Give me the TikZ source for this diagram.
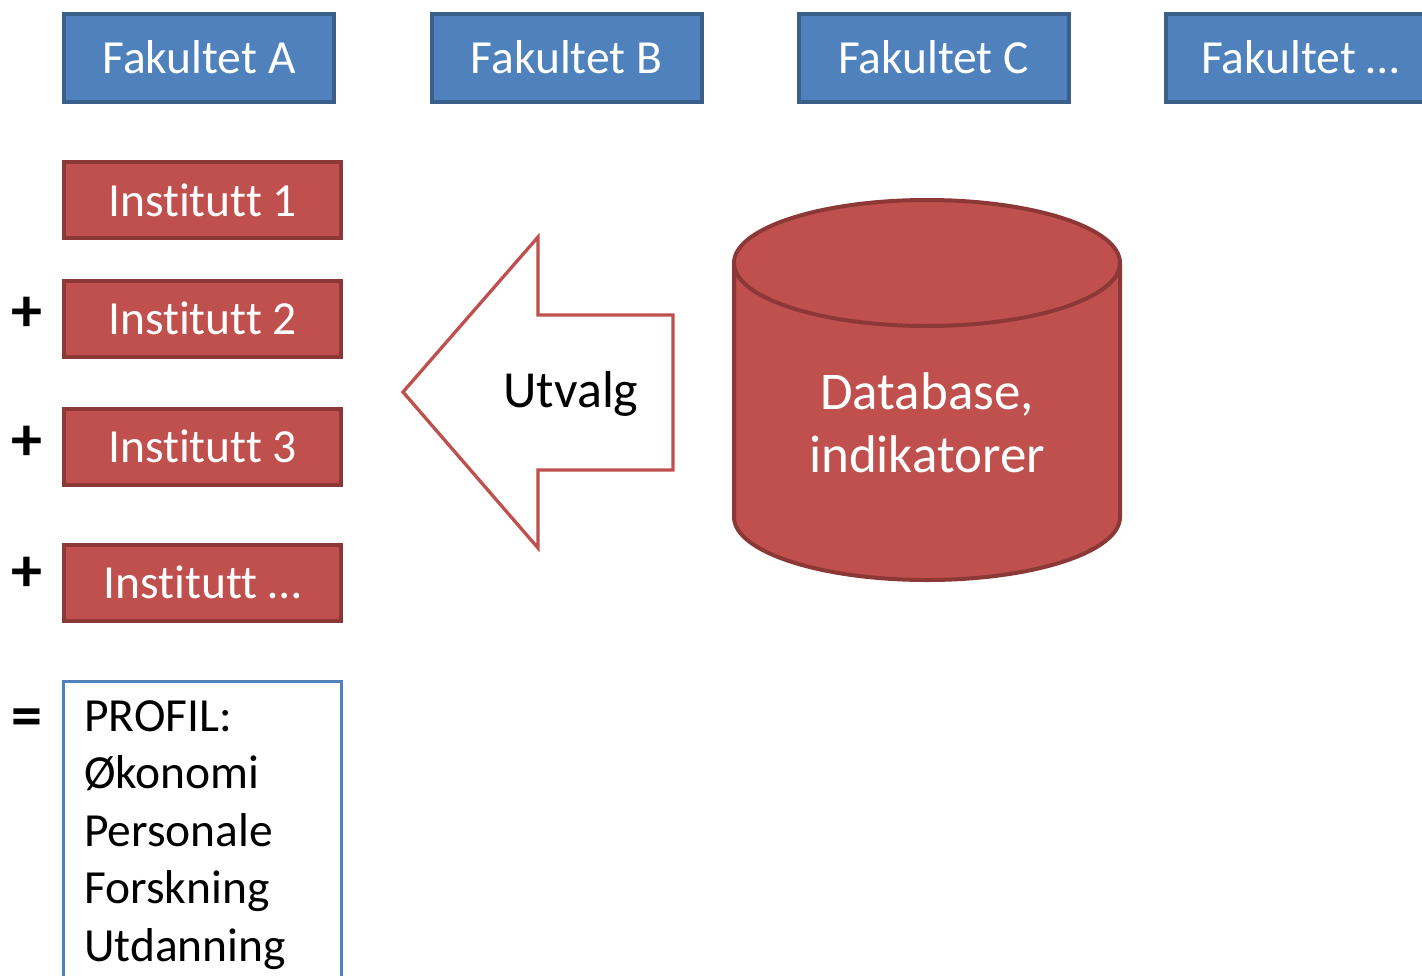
\documentclass[tikz,border=0pt]{standalone}
\usepackage{fontspec}
\setmainfont[Ligatures=NoCommon]{Carlito}
\definecolor{fakfill}{HTML}{4F81BD}
\definecolor{fakline}{HTML}{3A5F8B}
\definecolor{instfill}{HTML}{C0504D}
\definecolor{instline}{HTML}{8C3836}
\begin{document}
\begin{tikzpicture}[x=1pt,y=-1pt,
  fakbox/.style={draw=fakline,fill=fakfill,line width=4pt,minimum width=270pt,minimum height=88pt,inner sep=0pt,text=white,font=\fontsize{47.5}{50}\selectfont},
  instbox/.style={draw=instline,fill=instfill,line width=4pt,minimum width=277pt,minimum height=76pt,inner sep=0pt,text=white,font=\fontsize{47.5}{50}\selectfont},
  opsign/.style={font=\fontsize{62}{62}\selectfont\bfseries,inner sep=0pt}
]
\useasboundingbox (0,0) rectangle (1422,975);
\clip (0,0) rectangle (1422,975);
% Fakultet row
\node[fakbox] (fa) at (199,57.5) {Fakultet A};
\node[fakbox] (fb) at (566.5,57.5) {Fakultet B};
\node[fakbox] (fc) at (933.5,57.5) {Fakultet C};
\node[fakbox] (fd) at (1300.5,57.5) {Fakultet \dots};
% Institutt column
\node[instbox] (i1) at (202.5,200) {Institutt 1};
\node[instbox] (i2) at (202.5,318.5) {Institutt 2};
\node[instbox] (i3) at (202.5,446.5) {Institutt 3};
\node[instbox] (i4) at (202.5,582.5) {Institutt \dots};
% operators
\node[opsign] (p1) at (27,314) {+};
\node[opsign] (p2) at (27,443) {+};
\node[opsign] (p3) at (27,574) {+};
\node[opsign] (eq) at (27,723) {=};
% profile box
\draw[draw=fakfill,line width=3.5pt,fill=white] (63.5,681.5) rectangle (341.5,1000);
\node[anchor=north west,align=left,inner sep=0pt,font=\fontsize{47.5}{57.5}\selectfont] (prof) at (84,700)
  {PROFIL:\\Økonomi\\Personale\\Forskning\\Utdanning};
% arrow
\draw[draw=instfill,line width=3.3pt,fill=white,line join=miter]
  (403,392) -- (538,237) -- (538,315) -- (673,315) -- (673,470) -- (538,470) -- (538,548) -- cycle;
\node[font=\fontsize{52}{52}\selectfont,inner sep=0pt] (utv) at (571,394) {Utvalg};
% cylinder
\fill[instfill] (734,263) -- (734,517) arc[start angle=180,end angle=0,x radius=193,y radius=63] -- (1120,263) -- cycle;
\draw[instline,line width=4pt] (734,263) -- (734,517) arc[start angle=180,end angle=0,x radius=193,y radius=63] -- (1120,263);
\draw[instline,line width=4pt,fill=instfill] (927,263) ellipse[x radius=193,y radius=63];
\node[align=center,text=white,font=\fontsize{53}{63}\selectfont,inner sep=0pt] (db) at (927,423) {Database,\\indikatorer};
\end{tikzpicture}
\end{document}
